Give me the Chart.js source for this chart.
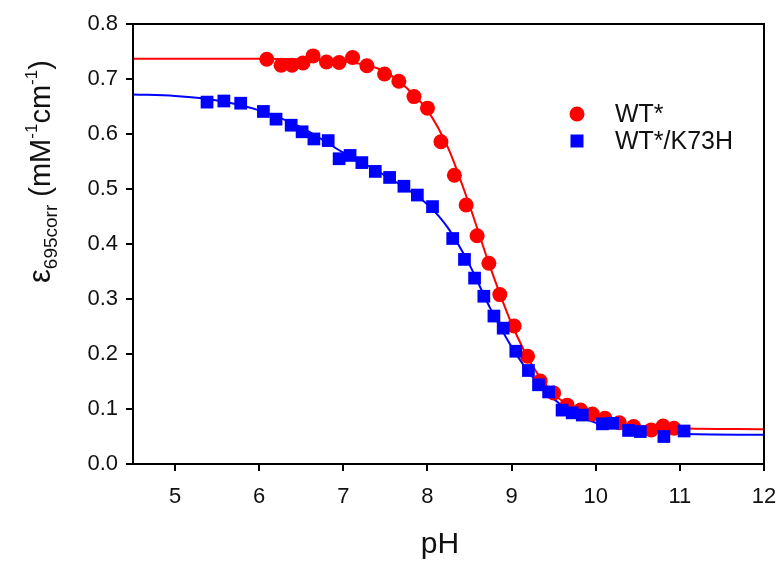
<!DOCTYPE html>
<html>
<head>
<meta charset="utf-8">
<script src="https://cdn.jsdelivr.net/npm/chart.js@4/dist/chart.umd.min.js"></script>
<style>
  html, body { margin: 0; padding: 0; background: #fff; }
  #box { width: 780px; height: 561px; }
</style>
</head>
<body>
<div id="box"><canvas id="myChart"></canvas></div>
<script>
// measured points
const wtPH = [6.09, 6.26, 6.39, 6.52, 6.64, 6.80, 6.95, 7.11, 7.28, 7.49, 7.66, 7.84, 8.00, 8.16, 8.32, 8.46,
  8.59, 8.73, 8.86, 9.03, 9.19, 9.34, 9.50, 9.66, 9.82, 9.96, 10.11, 10.28, 10.45, 10.66, 10.80, 10.93];
const wtEps = [0.736, 0.725, 0.725, 0.729, 0.742, 0.731, 0.730, 0.739, 0.724, 0.709, 0.696, 0.668, 0.647, 0.586, 0.525, 0.471,
  0.415, 0.365, 0.308, 0.251, 0.196, 0.151, 0.129, 0.107, 0.098, 0.091, 0.083, 0.075, 0.068, 0.062, 0.069, 0.065];

const mutPH = [5.38, 5.58, 5.78, 6.05, 6.20, 6.38, 6.51, 6.65, 6.82, 6.95, 7.08, 7.22, 7.38, 7.55, 7.72, 7.88, 8.06,
  8.30, 8.44, 8.56, 8.67, 8.79, 8.90, 9.05, 9.20, 9.32, 9.44, 9.60, 9.72, 9.84, 10.08, 10.20, 10.39, 10.53, 10.81, 11.05];
const mutEps = [0.658, 0.660, 0.656, 0.641, 0.627, 0.616, 0.604, 0.591, 0.588, 0.555, 0.561, 0.548, 0.532, 0.521, 0.505, 0.489, 0.468,
  0.410, 0.372, 0.338, 0.305, 0.269, 0.247, 0.205, 0.170, 0.144, 0.131, 0.098, 0.093, 0.089, 0.073, 0.074, 0.061, 0.059, 0.050, 0.060];

// fitted curves
const wtFitPH = [4.5, 6.0, 6.5, 7.0, 7.25, 7.5, 7.75, 8.0, 8.25, 8.5, 8.75, 9.0, 9.25, 9.5, 9.75, 10.0, 10.5, 11.0, 12.0];
const wtFitEps = [0.737, 0.737, 0.736, 0.732, 0.726, 0.713, 0.684, 0.643, 0.573, 0.470, 0.356, 0.255, 0.178, 0.128, 0.099, 0.082, 0.069, 0.065, 0.063];
const mutFitPH = [4.5, 5.0, 5.5, 6.0, 6.5, 7.0, 7.5, 8.0, 8.25, 8.5, 8.75, 9.0, 9.25, 9.5, 9.75, 10.0, 10.5, 11.0, 12.0];
const mutFitEps = [0.672, 0.669, 0.661, 0.643, 0.612, 0.566, 0.524, 0.472, 0.428, 0.362, 0.282, 0.213, 0.158, 0.118, 0.091, 0.075, 0.061, 0.055, 0.053];

const seriesNames = ["WT*", "WT*/K73H"];
const xTicks = [5, 6, 7, 8, 9, 10, 11, 12];
const yTicks = [0, 0.1, 0.2, 0.3, 0.4, 0.5, 0.6, 0.7, 0.8];

const RED = "#ff0000";
const BLUE = "#0000ff";
const FONT = "Liberation Sans, Arial, sans-serif";

const toXY = (xs, ys) => xs.map((x, i) => ({ x: x, y: ys[i] }));

const framePlugin = {
  id: "frame",
  afterDatasetsDraw(chart) {
    const { ctx, chartArea: a } = chart;
    ctx.save();
    ctx.strokeStyle = "#000";
    ctx.lineWidth = 2;
    ctx.strokeRect(a.left, a.top, a.right - a.left, a.bottom - a.top);
    ctx.restore();
  },
  afterDraw(chart) {
    const ctx = chart.ctx;
    ctx.save();
    ctx.fillStyle = "#111";

    // x title
    ctx.font = "30px " + FONT;
    ctx.textAlign = "center";
    ctx.textBaseline = "alphabetic";
    ctx.fillText("pH", 440, 553);

    // y title with sub/superscripts
    ctx.translate(50, 283);
    ctx.rotate(-Math.PI / 2);
    ctx.textAlign = "left";
    const parts = [
      ["ε", 31, 0],
      ["695corr", 19, 7],
      [" (mM", 29, 0],
      ["-1", 17, -13],
      ["cm", 29, 0],
      ["-1", 17, -13],
      [")", 29, 0]
    ];
    let px = 0;
    parts.forEach(p => {
      ctx.font = p[1] + "px " + FONT;
      ctx.fillText(p[0], px, p[2]);
      px += ctx.measureText(p[0]).width;
    });
    ctx.restore();

    // legend
    const pts = [chart.data.datasets[2], chart.data.datasets[3]];
    ctx.save();
    ctx.font = "25px " + FONT;
    ctx.textBaseline = "middle";
    pts.forEach((ds, i) => {
      const cx = 577, cy = 114 + i * 27;
      ctx.fillStyle = ds.backgroundColor;
      if (ds.pointStyle === "rect") {
        ctx.fillRect(cx - 6.5, cy - 6.5, 13, 13);
      } else {
        ctx.beginPath();
        ctx.arc(cx, cy, 7.5, 0, Math.PI * 2);
        ctx.fill();
      }
      ctx.fillStyle = "#111";
      ctx.fillText(ds.label, 615, cy + 1);
    });
    ctx.restore();
  }
};

const config = {
  type: "scatter",
  data: {
    datasets: [
      {
        label: "fit WT*",
        data: toXY(wtFitPH, wtFitEps),
        showLine: true,
        borderColor: RED,
        borderWidth: 2,
        pointRadius: 0,
        cubicInterpolationMode: "monotone",
        order: 3
      },
      {
        label: "fit WT*/K73H",
        data: toXY(mutFitPH, mutFitEps),
        showLine: true,
        borderColor: BLUE,
        borderWidth: 2,
        pointRadius: 0,
        cubicInterpolationMode: "monotone",
        order: 2
      },
      {
        label: seriesNames[0],
        data: toXY(wtPH, wtEps),
        pointStyle: "circle",
        pointRadius: 7.5,
        backgroundColor: RED,
        borderColor: RED,
        borderWidth: 0,
        order: 1
      },
      {
        label: seriesNames[1],
        data: toXY(mutPH, mutEps),
        pointStyle: "rect",
        pointRadius: 9,
        backgroundColor: BLUE,
        borderColor: BLUE,
        borderWidth: 0,
        order: 0
      }
    ]
  },
  options: {
    responsive: false,
    animation: false,
    layout: { padding: { top: 24, right: 16, bottom: 0, left: 0 } },
    plugins: {
      legend: { display: false },
      tooltip: { enabled: false }
    },
    scales: {
      x: {
        type: "linear",
        min: 4.5,
        max: 12,
        afterBuildTicks: (s) => { s.ticks = xTicks.map(v => ({ value: v })); },
        afterFit: (s) => { s.height = 97; s.paddingLeft = 0; s.paddingRight = 0; },
        ticks: {
          color: "#111",
          font: { family: FONT, size: 22 },
          padding: 13,
          maxRotation: 0
        },
        grid: { drawOnChartArea: false, tickLength: 7, color: "#000", lineWidth: 2 },
        border: { color: "#000", width: 2 }
      },
      y: {
        min: 0,
        max: 0.8,
        afterBuildTicks: (s) => { s.ticks = yTicks.map(v => ({ value: v })); },
        afterFit: (s) => { s.width = 133; s.paddingTop = 0; s.paddingBottom = 0; },
        ticks: {
          color: "#111",
          font: { family: FONT, size: 22 },
          padding: 8,
          callback: (v) => Number(v).toFixed(1)
        },
        grid: { drawOnChartArea: false, tickLength: 7, color: "#000", lineWidth: 2 },
        border: { color: "#000", width: 2 }
      }
    }
  },
  plugins: [framePlugin]
};

const canvas = document.getElementById("myChart");
canvas.width = 780;
canvas.height = 561;
new Chart(canvas, config);
</script>
</body>
</html>
